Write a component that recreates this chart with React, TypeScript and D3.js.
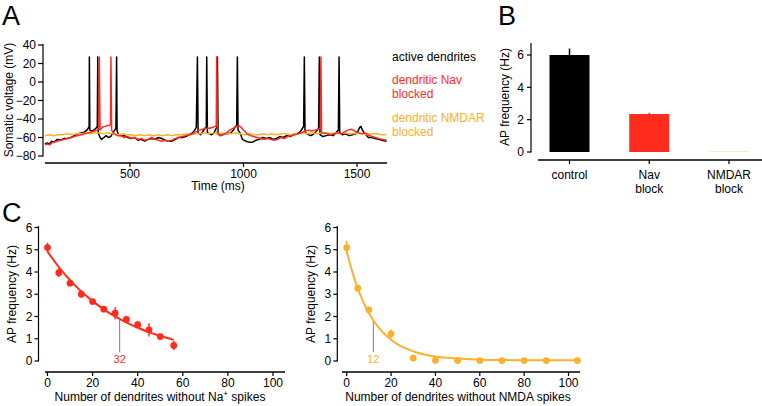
import React from 'react';
import * as d3 from 'd3';

const FONT = "'Liberation Sans', Arial, Helvetica, sans-serif";
const RED = '#ff2b1c';
const ORANGE = '#fdb02b';
const GREY = '#7a7a7a';

// ---------- Panel A data (time ms, somatic voltage mV) ----------
const timeTicks = [500, 1000, 1500];
const voltTicks = [-80, -60, -40, -20, 0, 20, 40];

const traceActive: [number, number][] = [
  [125, -67], [135, -66], [145, -67], [155, -64], [165, -65], [180, -62], [195, -63], [210, -61], [225, -61], [240, -60],
  [255, -58], [270, -56], [285, -55], [300, -54], [310, -52], [316, -50], [320, -48], [321, 27], [323, -52], [330, -53],
  [340, -52], [350, -50], [356, -48], [358, 27], [360, -55], [368, -60], [375, -62], [385, -60], [395, -58], [405, -60],
  [415, -59], [425, -55], [432, -52], [438, -50], [441, 27], [443, -53], [450, -57], [460, -58], [475, -58], [490, -60],
  [505, -61], [520, -60], [535, -63], [550, -62], [565, -64], [580, -62], [595, -61], [610, -62], [625, -60], [640, -61],
  [655, -63], [670, -64], [685, -64], [700, -62], [715, -60], [730, -60], [745, -59], [760, -57], [775, -55], [785, -52],
  [792, -49], [797, 27], [800, -55], [810, -57], [820, -54], [830, -50], [836, -49], [838, 27], [841, -55], [850, -56],
  [860, -57], [870, -55], [878, -51], [883, -49], [885, 27], [888, -56], [900, -58], [915, -56], [930, -56], [945, -55],
  [955, -52], [965, -48], [970, -47], [973, 27], [976, -52], [985, -55], [995, -62], [1010, -64], [1025, -65], [1040, -65],
  [1055, -63], [1070, -62], [1085, -60], [1100, -61], [1115, -60], [1130, -62], [1145, -61], [1160, -59], [1175, -60], [1190, -58],
  [1205, -59], [1220, -57], [1235, -56], [1250, -54], [1260, -50], [1265, -48], [1268, 27], [1271, -54], [1280, -56], [1295, -58],
  [1305, -57], [1315, -55], [1325, -52], [1331, -50], [1334, 27], [1337, -57], [1350, -59], [1365, -58], [1380, -57], [1395, -58],
  [1410, -54], [1418, -52], [1421, 27], [1424, -55], [1435, -57], [1450, -56], [1465, -58], [1480, -57], [1495, -56], [1505, -53],
  [1512, -49], [1517, -48], [1524, -52], [1535, -56], [1550, -60], [1565, -60], [1580, -61], [1595, -62], [1610, -63], [1630, -64],
];

const traceNavBlocked: [number, number][] = [
  [125, -68], [135, -67], [145, -68], [155, -66], [165, -65], [180, -64], [195, -63], [210, -62], [225, -61], [240, -60],
  [255, -59], [270, -58], [285, -57], [300, -56], [315, -55], [330, -54], [345, -53], [355, -52], [362, -51], [365, 27],
  [368, -52], [378, -49], [390, -48], [400, -47], [410, -47], [414, -46], [416, 27], [419, -52], [430, -56], [445, -58],
  [460, -58], [475, -60], [490, -59], [505, -61], [520, -60], [535, -62], [550, -61], [565, -63], [580, -62], [595, -60],
  [610, -62], [625, -63], [640, -64], [655, -63], [670, -64], [685, -63], [700, -61], [715, -60], [730, -59], [745, -58],
  [760, -57], [775, -56], [790, -54], [805, -52], [820, -51], [835, -50], [850, -50], [865, -49], [875, -48], [880, -47],
  [882, 27], [885, -55], [895, -58], [910, -57], [925, -55], [940, -52], [955, -50], [970, -48], [980, -47], [990, -49],
  [1000, -52], [1015, -56], [1030, -58], [1045, -59], [1060, -60], [1075, -61], [1090, -62], [1105, -61], [1120, -62], [1135, -63],
  [1150, -62], [1165, -60], [1180, -61], [1195, -59], [1210, -58], [1225, -57], [1240, -56], [1255, -55], [1270, -53], [1285, -52],
  [1300, -53], [1315, -52], [1330, -51], [1338, -50], [1341, 27], [1344, -55], [1355, -55], [1370, -56], [1385, -57], [1400, -56],
  [1415, -55], [1430, -56], [1445, -54], [1460, -52], [1475, -51], [1490, -53], [1505, -55], [1520, -56], [1535, -55], [1550, -57],
  [1565, -59], [1580, -60], [1595, -61], [1610, -62], [1630, -63],
];

const traceNmdarBlocked: [number, number][] = [
  [125, -58], [145, -57], [165, -58], [185, -57], [205, -57], [225, -56], [245, -57], [265, -56], [285, -56], [305, -55],
  [325, -56], [345, -55], [365, -55], [385, -56], [405, -55], [425, -56], [445, -57], [465, -56], [485, -57], [505, -57],
  [525, -58], [545, -57], [565, -58], [585, -57], [605, -58], [625, -57], [645, -58], [665, -57], [685, -58], [705, -57],
  [725, -57], [745, -56], [765, -57], [785, -56], [805, -56], [825, -55], [845, -56], [865, -55], [885, -56], [905, -55],
  [925, -56], [945, -56], [965, -55], [985, -56], [1005, -57], [1025, -56], [1045, -57], [1065, -57], [1085, -56], [1105, -57],
  [1125, -56], [1145, -57], [1165, -56], [1185, -56], [1205, -57], [1225, -56], [1245, -56], [1265, -55], [1285, -56], [1305, -55],
  [1325, -56], [1345, -55], [1365, -55], [1385, -56], [1405, -55], [1425, -56], [1445, -55], [1465, -56], [1485, -56], [1505, -55],
  [1525, -56], [1545, -57], [1565, -56], [1585, -56], [1605, -57], [1630, -57],
];

const legendLabels = [['active dendrites'], ['dendritic Nav', 'blocked'], ['dendritic NMDAR', 'blocked']];
const legendColors = ['#000000', RED, ORANGE];

// ---------- Panel B data ----------
const barCategories = [['control'], ['Nav', 'block'], ['NMDAR', 'block']];
const barValues = [6.0, 2.35, 0];
const barErrors = [0.4, 0.08, 0];
const barColors = ['#000000', RED, ORANGE];
const barTicks = [0, 2, 4, 6];

// ---------- Panel C data ----------
const cTicksY = [0, 1, 2, 3, 4, 5, 6];
const cTicksX = [0, 20, 40, 60, 80, 100];

const naX = [0, 5, 10, 15, 20, 25, 30, 35, 40, 45, 50, 56];
const naY = [5.1, 3.97, 3.5, 3.0, 2.67, 2.33, 2.15, 1.87, 1.63, 1.4, 1.1, 0.7];
const naErr = [0.22, 0.2, 0.12, 0.15, 0.08, 0.08, 0.27, 0.12, 0.15, 0.3, 0.12, 0.2];
const naFitX = [0, 4, 8, 12, 16, 20, 24, 28, 32, 36, 40, 44, 48, 52, 56];
const naFitY = [4.92, 4.36, 3.86, 3.42, 3.03, 2.69, 2.39, 2.12, 1.89, 1.68, 1.5, 1.33, 1.19, 1.07, 0.95];
const naConst = 32;

const nmdaX = [0, 5, 10, 20, 30, 40, 50, 60, 70, 80, 90, 104];
const nmdaY = [5.1, 3.27, 2.3, 1.22, 0.13, 0.03, 0.02, 0.02, 0.02, 0.02, 0.02, 0.02];
const nmdaErr = [0.3, 0.1, 0.1, 0.2, 0.05, 0.04, 0.02, 0.02, 0.02, 0.02, 0.02, 0.02];
const nmdaFitX = [0, 3, 6, 9, 12, 15, 18, 21, 24, 28, 32, 36, 40, 48, 56, 64, 72, 80, 90, 104];
const nmdaFitY = [4.93, 3.85, 3.0, 2.34, 1.83, 1.43, 1.12, 0.88, 0.69, 0.51, 0.37, 0.27, 0.2, 0.12, 0.08, 0.05, 0.04, 0.035, 0.03, 0.03];
const nmdaConst = 12;

const txt = { fontFamily: FONT, fontSize: 12, fill: '#000' } as const;

function ScatterPanel(props: {
  xs: number[]; ys: number[]; errs: number[]; fitX: number[]; fitY: number[];
  color: string; constant: number; x0: number; x100: number; axisX: number; axisStart: number; axisEnd: number;
  ylabelX: number; xlabel: React.ReactNode; xlabelX: number;
}) {
  const { xs, ys, errs, fitX, fitY, color, constant, x0, x100, axisX, axisStart, axisEnd, ylabelX, xlabel, xlabelX } = props;
  const x = d3.scaleLinear().domain([0, 100]).range([x0, x100]);
  const y = d3.scaleLinear().domain([0, 6]).range([361, 227.5]);
  const fitLine = d3.line<number>().x((_, i) => x(fitX[i])).y((d) => y(d)).curve(d3.curveMonotoneX);
  const xAxisY = 372;
  const constIdx = fitX.findIndex((v) => v >= constant);
  const fitAtConst = d3.interpolateNumber(
    fitY[Math.max(0, constIdx - 1)],
    fitY[constIdx]
  )(constIdx > 0 ? (constant - fitX[constIdx - 1]) / (fitX[constIdx] - fitX[constIdx - 1]) : 0);
  return (
    <g>
      <line x1={axisX} x2={axisX} y1={226} y2={361.5} stroke="#000" strokeWidth={1.2} />
      {cTicksY.map((t) => (
        <g key={t}>
          <line x1={axisX - 4} x2={axisX} y1={y(t)} y2={y(t)} stroke="#000" strokeWidth={1.2} />
          <text {...txt} x={axisX - 6} y={y(t)} dy="0.35em" textAnchor="end">{t}</text>
        </g>
      ))}
      <text {...txt} transform={`translate(${ylabelX},294) rotate(-90)`} textAnchor="middle" dy="0.35em">AP frequency (Hz)</text>
      <line x1={axisStart} x2={axisEnd} y1={xAxisY} y2={xAxisY} stroke="#000" strokeWidth={1.4} />
      {cTicksX.map((t) => (
        <g key={t}>
          <line x1={x(t)} x2={x(t)} y1={xAxisY} y2={xAxisY + 4} stroke="#000" strokeWidth={1.2} />
          <text {...txt} x={x(t)} y={xAxisY + 15} textAnchor="middle">{t}</text>
        </g>
      ))}
      <text {...txt} x={xlabelX} y={401} textAnchor="middle">{xlabel}</text>
      <line x1={x(constant)} x2={x(constant)} y1={y(fitAtConst) + 1} y2={y(0.4)} stroke={GREY} strokeWidth={1} />
      <text x={x(constant)} y={y(0.4) + 11} textAnchor="middle" fontFamily={FONT} fontSize={11} fill={color}>{constant}</text>
      <path d={fitLine(fitY) || ''} fill="none" stroke={color} strokeWidth={2} />
      {xs.map((xv, i) => (
        <g key={i}>
          <line x1={x(xv)} x2={x(xv)} y1={y(ys[i] - errs[i])} y2={y(ys[i] + errs[i])} stroke={color} strokeWidth={1.5} />
          <circle cx={x(xv)} cy={y(ys[i])} r={3.4} fill={color} />
        </g>
      ))}
    </g>
  );
}

export default function App() {
  const xA = d3.scaleLinear().domain([500, 1500]).range([130, 357]);
  const yA = d3.scaleLinear().domain([-80, 40]).range([156, 45]);
  const traceLine = d3.line<[number, number]>().x((d) => xA(d[0])).y((d) => yA(d[1]));

  const xB = d3.scalePoint<number>().domain([0, 1, 2]).range([569.5, 729]);
  const yB = d3.scaleLinear().domain([0, 6]).range([152, 55]);
  const barW = 40;

  return (
    <svg width={762} height={406} style={{ position: 'absolute', left: 0, top: 0, background: '#fff' }}>
      <rect width={762} height={406} fill="#fff" />
      <text x={2} y={25} fontFamily={FONT} fontSize={27}>A</text>
      <text x={498} y={25} fontFamily={FONT} fontSize={27}>B</text>
      <text x={2} y={222} fontFamily={FONT} fontSize={27}>C</text>

      {/* ---------- Panel A ---------- */}
      <line x1={43} x2={43} y1={yA(40) - 1} y2={yA(-80) + 0.5} stroke="#000" strokeWidth={1.2} />
      {voltTicks.map((t) => (
        <g key={t}>
          <line x1={38} x2={43} y1={yA(t)} y2={yA(t)} stroke="#000" strokeWidth={1.2} />
          <text {...txt} x={36} y={yA(t)} dy="0.35em" textAnchor="end">{t < 0 ? '\u2212' + Math.abs(t) : t}</text>
        </g>
      ))}
      <text {...txt} transform="translate(9,100) rotate(-90)" textAnchor="middle" dy="0.35em">Somatic voltage (mV)</text>
      <line x1={45} x2={387} y1={163} y2={163} stroke="#000" strokeWidth={1.4} />
      {timeTicks.map((t) => (
        <g key={t}>
          <line x1={xA(t)} x2={xA(t)} y1={163} y2={167} stroke="#000" strokeWidth={1.2} />
          <text {...txt} x={xA(t)} y={178} textAnchor="middle">{t}</text>
        </g>
      ))}
      <text {...txt} x={218} y={190} textAnchor="middle">Time (ms)</text>

      <path d={traceLine(traceActive) || ''} fill="none" stroke="#000" strokeWidth={1.5} strokeLinejoin="round" />
      <path d={traceLine(traceNmdarBlocked) || ''} fill="none" stroke={ORANGE} strokeWidth={1.5} strokeLinejoin="round" />
      <path d={traceLine(traceNavBlocked) || ''} fill="none" stroke={RED} strokeWidth={1.5} strokeLinejoin="round" />

      {legendLabels.map((lines, i) => (
        <text key={i} x={392} y={[61, 84, 122][i]} fontFamily={FONT} fontSize={12} fill={legendColors[i]}>
          {lines.map((l, j) => (
            <tspan key={j} x={392} dy={j === 0 ? 0 : 14}>{l}</tspan>
          ))}
        </text>
      ))}

      {/* ---------- Panel B ---------- */}
      <line x1={531} x2={531} y1={43} y2={152.5} stroke="#000" strokeWidth={1.2} />
      {barTicks.map((t) => (
        <g key={t}>
          <line x1={527} x2={531} y1={yB(t)} y2={yB(t)} stroke="#000" strokeWidth={1.2} />
          <text {...txt} x={524} y={yB(t)} dy="0.35em" textAnchor="end">{t}</text>
        </g>
      ))}
      <text {...txt} transform="translate(505,97) rotate(-90)" textAnchor="middle" dy="0.35em">AP frequency (Hz)</text>
      <line x1={538} x2={762} y1={160} y2={160} stroke="#000" strokeWidth={1.4} />
      {barCategories.map((lines, i) => (
        <g key={i}>
          <line x1={xB(i)!} x2={xB(i)!} y1={160} y2={164} stroke="#000" strokeWidth={1.2} />
          <text {...txt} x={xB(i)!} y={178.5} textAnchor="middle">
            {lines.map((l, j) => (
              <tspan key={j} x={xB(i)!} dy={j === 0 ? 0 : 14.5}>{l}</tspan>
            ))}
          </text>
        </g>
      ))}
      {barValues.map((v, i) => (
        <g key={i}>
          {barErrors[i] > 0 && (
            <line x1={xB(i)!} x2={xB(i)!} y1={yB(v)} y2={yB(v + barErrors[i])} stroke={barColors[i]} strokeWidth={1.5} />
          )}
          <rect
            x={xB(i)! - barW / 2}
            y={v > 0 ? yB(v) : yB(0) - 1}
            width={barW}
            height={v > 0 ? yB(0) - yB(v) : 1}
            fill={barColors[i]}
            opacity={v > 0 ? 1 : 0.25}
          />
        </g>
      ))}

      {/* ---------- Panel C ---------- */}
      <ScatterPanel
        xs={naX} ys={naY} errs={naErr} fitX={naFitX} fitY={naFitY} color={RED} constant={naConst}
        x0={47.5} x100={273} axisX={38.5} axisStart={45} axisEnd={285} ylabelX={11.5} xlabelX={160}
        xlabel={<>Number of dendrites without Na<tspan fontSize={8} dy={-5}>+</tspan><tspan dy={5}> spikes</tspan></>}
      />
      <ScatterPanel
        xs={nmdaX} ys={nmdaY} errs={nmdaErr} fitX={nmdaFitX} fitY={nmdaFitY} color={ORANGE} constant={nmdaConst}
        x0={346.7} x100={568.5} axisX={337.3} axisStart={342} axisEnd={580} ylabelX={310.5} xlabelX={458}
        xlabel={'Number of dendrites without NMDA spikes'}
      />
    </svg>
  );
}
